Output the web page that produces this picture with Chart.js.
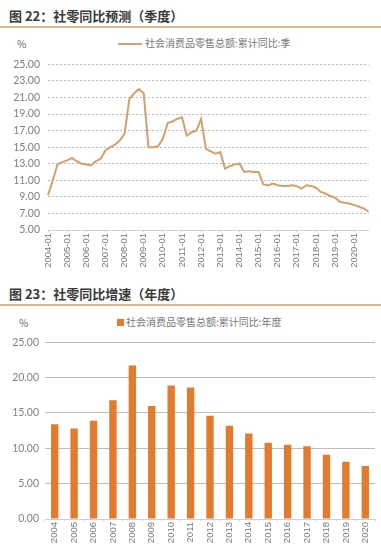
<!DOCTYPE html>
<html><head><meta charset="utf-8">
<script src="https://cdn.jsdelivr.net/npm/chart.js@4"></script>
<style>
html,body{margin:0;padding:0;background:#fff;width:381px;height:548px;overflow:hidden;position:relative;font-family:"Noto Sans CJK SC",sans-serif;}
.title{position:absolute;left:9px;font-size:13px;font-weight:bold;color:#3a3a3a;white-space:nowrap;}
.rule{position:absolute;left:0;width:381px;height:2px;background:#dcb891;}
.pct{position:absolute;font-size:10px;color:#666;}
.leg{position:absolute;font-size:10px;color:#777;white-space:nowrap;}
.box{position:absolute;}
</style></head>
<body>
<div class="title" style="top:6px">图 22：社零同比预测（季度）</div>
<div class="rule" style="top:26px"></div>
<div class="pct" style="left:17px;top:36px">%</div>
<div class="leg" style="left:118px;top:35px"><span style="display:inline-block;width:24px;height:2px;background:#d4a06c;vertical-align:middle;margin-right:3px"></span>社会消费品零售总额:累计同比:季</div>
<div class="box" style="left:0;top:50px;width:381px;height:220px"><canvas id="c1"></canvas></div>

<div class="title" style="top:284px">图 23：社零同比增速（年度）</div>
<div class="rule" style="top:304px"></div>
<div class="pct" style="left:19px;top:315px">%</div>
<div class="leg" style="left:117px;top:314px"><span style="display:inline-block;width:7px;height:7px;background:#e27b2e;vertical-align:middle;margin-right:2px;margin-top:-2px"></span>社会消费品零售总额:累计同比:年度</div>
<div class="box" style="left:0;top:330px;width:381px;height:218px"><canvas id="c2"></canvas></div>

<script>
const quarterLabels = [];
for (let y = 2004; y <= 2020; y++) { for (const m of ['01','04','07','10']) quarterLabels.push(y + '-' + m); }
const quarterValues = [9.2,11.0,12.9,13.2,13.4,13.7,13.3,13.0,12.9,12.8,13.3,13.6,14.6,15.0,15.3,15.8,
16.6,20.8,21.5,22.0,21.5,15.0,15.0,15.1,16.0,17.9,18.1,18.4,18.6,16.4,16.8,17.0,
18.4,14.8,14.5,14.2,14.4,12.4,12.7,12.9,13.0,12.0,12.1,12.0,12.0,10.5,10.4,10.6,
10.4,10.3,10.3,10.4,10.3,10.0,10.4,10.3,10.1,9.6,9.4,9.1,8.9,8.4,8.3,8.2,8.0,7.8,7.6,7.2];
const years = ['2004','2005','2006','2007','2008','2009','2010','2011','2012','2013','2014','2015','2016','2017','2018','2019','2020'];
const yearValues = [13.4,12.8,13.9,16.8,21.7,16.0,18.9,18.6,14.6,13.2,12.1,10.8,10.5,10.3,9.1,8.1,7.5];
const seriesQ = '社会消费品零售总额:累计同比:季';
const seriesY = '社会消费品零售总额:累计同比:年度';

const tickFont = {family:'Lato, "Open Sans", sans-serif', size:10.5};
Chart.defaults.animation = false;
Chart.defaults.responsive = true;
Chart.defaults.maintainAspectRatio = false;

new Chart(document.getElementById('c1'), {
  type:'line',
  data:{labels:quarterLabels, datasets:[{label:seriesQ, data:quarterValues, borderColor:'#d4a06c', borderWidth:2, pointRadius:0, tension:0, fill:false}]},
  options:{
    layout:{padding:{top:14,right:6,left:0,bottom:0}},
    plugins:{legend:{display:false}, tooltip:{enabled:false}},
    scales:{
      x:{offset:false,
        grid:{display:true, drawOnChartArea:false, tickLength:2, color:ctx => (ctx.index % 4 === 0 ? '#d0d0d0' : 'rgba(0,0,0,0)')},
        border:{color:'#cfcfcf'},
        ticks:{autoSkip:false, maxRotation:90, minRotation:90, color:'#777', font:{family:'"Liberation Sans Narrow", "Liberation Sans", sans-serif', size:9.5}, padding:1,
          callback:function(v,i){ const l=quarterLabels[i]; return l.endsWith('-01')? l : ''; }},
        afterFit:function(s){ s.height = 40; }
      },
      y:{min:5, max:25,
        grid:{color:'#bdbdbd', lineWidth:1, drawTicks:false},
        border:{display:false, dash:[2,2]},
        ticks:{stepSize:2, color:'#808080', font:tickFont, padding:8, callback:v=>v.toFixed(2)},
        afterFit:function(s){ s.width = 48; }
      }
    }
  }
});

new Chart(document.getElementById('c2'), {
  type:'bar',
  data:{labels:years, datasets:[{label:seriesY, data:yearValues, backgroundColor:'#e27b2e', categoryPercentage:1, barPercentage:0.38}]},
  options:{
    layout:{padding:{top:12,right:6,left:0,bottom:0}},
    plugins:{legend:{display:false}, tooltip:{enabled:false}},
    scales:{
      x:{grid:{display:true, drawOnChartArea:false, tickLength:2, color:'#d0d0d0'}, border:{color:'#cfcfcf'},
        ticks:{autoSkip:false, maxRotation:90, minRotation:90, color:'#777', font:{family:'"Liberation Sans", sans-serif', size:9.5}, padding:1},
        afterFit:function(s){ s.height = 29; }
      },
      y:{min:0, max:25,
        grid:{color:'#bdbdbd', drawTicks:false},
        border:{display:false},
        ticks:{stepSize:5, color:'#808080', font:tickFont, padding:6, callback:v=>v.toFixed(2)},
        afterFit:function(s){ s.width = 45; }
      }
    }
  }
});
</script>
</body></html>
